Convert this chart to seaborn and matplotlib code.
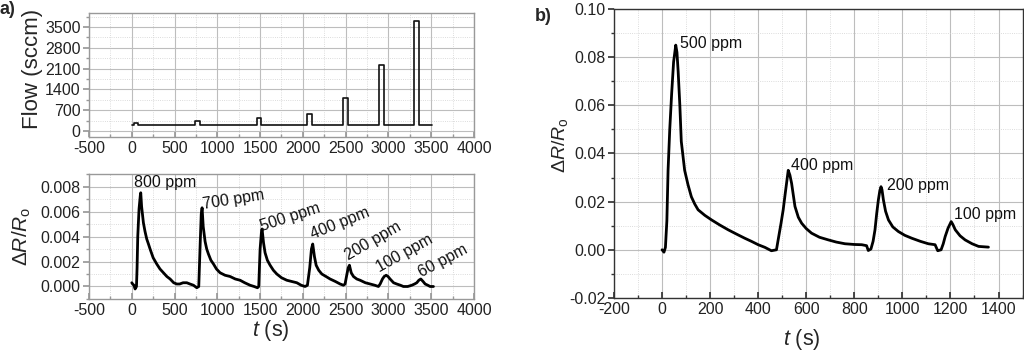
import numpy as np
import pandas as pd
import matplotlib
matplotlib.use("Agg")
import matplotlib.pyplot as plt
from matplotlib.ticker import MultipleLocator, FormatStrFormatter
import seaborn as sns

# --- Data ---
# a) gas flow pulses: baseline flow plus one rectangular pulse per concentration
BASE_FLOW = 200
pulse_start = [27, 740, 1460, 2053, 2470, 2890, 3304]
pulse_end = [78, 800, 1515, 2112, 2524, 2945, 3358]
pulse_flow = [280, 330, 450, 560, 1110, 2210, 3710]
flow_t_end = 3514

# a) response to the pulses
resp_a_t = [0, 10, 25, 39, 55, 62, 70, 85, 100, 105, 115, 136, 155, 175, 195, 214, 250, 292,
            330, 370, 410, 448, 490, 526, 560, 600, 643, 680, 721, 760, 783,
            800, 812, 822, 835, 857, 876, 896, 925, 955, 990, 1032, 1090, 1149, 1210,
            1266, 1320, 1383, 1430, 1469, 1484,
            1500, 1515, 1523, 1540, 1558, 1585, 1617, 1655, 1695, 1750, 1812, 1870, 1929,
            1980, 2026, 2053, 2080, 2100, 2115, 2135, 2155, 2185, 2221, 2270, 2318,
            2380, 2435, 2474, 2493, 2515, 2530, 2544, 2565, 2591, 2630, 2669, 2730,
            2786, 2840, 2883, 2903, 2930, 2950, 2973, 2995, 3019, 3060, 3097, 3140,
            3175, 3225, 3273, 3305, 3331, 3355, 3378, 3405, 3429, 3460, 3487, 3526]
resp_a_v = [0.0003, 0.0002, 0.0001, -0.0002, 0.0000, 0.0015, 0.0040, 0.0062, 0.0073, 0.0075,
            0.0064, 0.0051, 0.0044, 0.0038, 0.0034, 0.0030, 0.0023, 0.0018,
            0.0014, 0.0011, 0.0008, 0.0006, 0.0003, 0.0002, 0.0002, 0.0003, 0.0003, 0.0002,
            0.0001, -0.0001, 0.0000,
            0.0035, 0.0058, 0.0063, 0.0048, 0.0036, 0.0030, 0.0026, 0.0021, 0.0018, 0.0014,
            0.0011, 0.0009, 0.0008, 0.0006,
            0.0005, 0.0003, 0.0001, 0.0000, -0.0001, 0.0000,
            0.0030, 0.0043, 0.0046, 0.0035, 0.0027, 0.0021, 0.0017, 0.0013, 0.0010, 0.0007,
            0.0005, 0.0004, 0.0003,
            0.0001, 0.0000, 0.0001, 0.0015, 0.0030, 0.0034, 0.0024, 0.0017, 0.0013, 0.0010,
            0.0008, 0.0006,
            0.0004, 0.0002, 0.0001, 0.0002, 0.0010, 0.0015, 0.0017, 0.0011, 0.0008, 0.0006,
            0.0005, 0.0003,
            0.0002, 0.0001, 0.0000, 0.0002, 0.0006, 0.0008, 0.0009, 0.0008, 0.0006, 0.0003,
            0.0002, 0.0001,
            0.0000, 0.0000, 0.0001, 0.0002, 0.0003, 0.0005, 0.0006, 0.0004, 0.0002, 0.0001,
            0.0000, 0.0000]
labels_a = ["800 ppm", "700 ppm", "500 ppm", "400 ppm", "200 ppm", "100 ppm", "60 ppm"]
label_a_t = [27, 845, 1539, 2131, 2552, 2915, 3409]
label_a_v = [0.0077, 0.0060, 0.0042, 0.0036, 0.00187, 0.00092, 0.00055]
label_a_rot = [0, 9, 18, 22, 30, 29, 28]

# b) response
resp_b_t = [0, 8, 14, 20, 25, 32, 40, 48, 57, 62, 67, 74, 80, 94, 108, 122, 136, 150, 178,
            206, 240, 275, 310, 344, 372, 400, 428, 455, 476,
            483, 495, 504, 512, 518, 525, 532, 539, 553, 567, 581, 600, 622, 655, 692,
            725, 761, 800, 831, 851, 858, 869,
            878, 886, 893, 900, 906, 911, 915, 921, 930, 942, 960, 983, 1010, 1039,
            1075, 1108, 1136, 1147, 1161,
            1170, 1178, 1190, 1203, 1210, 1220, 1240, 1261, 1290, 1317, 1358]
resp_b_v = [0.000, -0.001, 0.001, 0.012, 0.033, 0.050, 0.065, 0.078, 0.085, 0.082, 0.074,
            0.060, 0.045, 0.033, 0.027, 0.022, 0.019, 0.0166, 0.0143,
            0.0124, 0.0103, 0.0083, 0.0065, 0.0048, 0.0035, 0.0021, 0.0010, -0.0004, 0.000,
            0.0041, 0.0110, 0.0166, 0.0230, 0.0276, 0.033, 0.031, 0.0276, 0.018, 0.0135,
            0.011, 0.0088, 0.0069, 0.0052, 0.0041,
            0.0032, 0.0025, 0.0022, 0.0021, 0.0017, -0.0003, 0.0003,
            0.0035, 0.0083, 0.0150, 0.0207, 0.0245, 0.0262, 0.0250, 0.0207, 0.0160, 0.0124,
            0.0095, 0.0076, 0.0060, 0.0048,
            0.0035, 0.0025, 0.0021, -0.0004, 0.000,
            0.0025, 0.0055, 0.0090, 0.0117, 0.0105, 0.0083, 0.0058, 0.0041, 0.0025, 0.0014,
            0.0011]
labels_b = ["500 ppm", "400 ppm", "200 ppm", "100 ppm"]
label_b_t = [73, 536, 935, 1213]
label_b_v = [0.0856, 0.0352, 0.0265, 0.0148]

# build the step-shaped flow trace from the pulse table
flow_t = [0]
flow_v = [BASE_FLOW]
for s, e, f in zip(pulse_start, pulse_end, pulse_flow):
    flow_t += [s, s, e, e]
    flow_v += [BASE_FLOW, f, f, BASE_FLOW]
flow_t.append(flow_t_end)
flow_v.append(BASE_FLOW)
flow_df = pd.DataFrame({"t": flow_t, "flow": flow_v})
resp_a = pd.DataFrame({"t": resp_a_t, "dr": resp_a_v})
resp_b = pd.DataFrame({"t": resp_b_t, "dr": resp_b_v})

# --- Style ---
sns.set_theme(style="ticks")
plt.rcParams["font.family"] = ["Liberation Sans", "DejaVu Sans"]
plt.rcParams["mathtext.fontset"] = "custom"
plt.rcParams["mathtext.rm"] = "Liberation Sans"
plt.rcParams["mathtext.it"] = "Liberation Sans:italic"
plt.rcParams["mathtext.bf"] = "Liberation Sans:bold"
plt.rcParams["axes.unicode_minus"] = False

TICK_FS = 11.5
LABEL_FS = 16


def style_axes(ax, spine_color, x_major, x_minor, y_major, y_minor):
    ax.xaxis.set_major_locator(MultipleLocator(x_major))
    ax.xaxis.set_minor_locator(MultipleLocator(x_minor))
    ax.yaxis.set_major_locator(MultipleLocator(y_major))
    ax.yaxis.set_minor_locator(MultipleLocator(y_minor))
    ax.grid(which="major", color="#bdbdbd", lw=0.8, ls="-")
    ax.grid(which="minor", color="#d0d0d0", lw=0.6, ls=":")
    ax.set_axisbelow(True)
    for sp in ax.spines.values():
        sp.set_visible(True)
        sp.set_color(spine_color)
        sp.set_linewidth(1.0)
    ax.tick_params(axis="x", which="both", direction="in", colors=spine_color,
                   labelcolor="#222222", labelsize=TICK_FS, pad=3)
    ax.tick_params(axis="y", which="both", direction="out", colors=spine_color,
                   labelcolor="#222222", labelsize=TICK_FS, pad=2)
    ax.tick_params(which="major", length=4)
    ax.tick_params(which="minor", length=2)


fig = plt.figure(figsize=(10.24, 3.53), dpi=100)
ax_flow = fig.add_axes([0.0869, 0.612, 0.376, 0.351])
ax_ra = fig.add_axes([0.0869, 0.153, 0.376, 0.354])
ax_rb = fig.add_axes([0.5996, 0.156, 0.399, 0.8185])

# a) flow
sns.lineplot(data=flow_df, x="t", y="flow", ax=ax_flow, estimator=None, sort=False,
             color="#111111", lw=1.2)
ax_flow.set_xlim(-500, 4000)
ax_flow.set_ylim(-200, 3970)
style_axes(ax_flow, "#999999", 500, 250, 700, 350)
ax_flow.set_xlabel("")
ax_flow.set_ylabel("Flow (sccm)", fontsize=LABEL_FS)
ax_flow.yaxis.set_label_coords(-0.12, 0.55)

# a) response
sns.lineplot(data=resp_a, x="t", y="dr", ax=ax_ra, estimator=None, sort=False,
             color="#000000", lw=2.0)
ax_ra.set_xlim(-500, 4000)
ax_ra.set_ylim(-0.001, 0.009)
style_axes(ax_ra, "#999999", 500, 250, 0.002, 0.001)
ax_ra.yaxis.set_major_formatter(FormatStrFormatter("%.3f"))
ax_ra.set_xlabel(r"$t$ (s)", fontsize=15.5)
ax_ra.xaxis.set_label_coords(0.473, -0.15)
ax_ra.set_ylabel(r"$\Delta R/R_{\mathrm{o}}$", fontsize=15)
ax_ra.yaxis.set_label_coords(-0.145, 0.5)
for txt, tx, ty, rot in zip(labels_a, label_a_t, label_a_v, label_a_rot):
    ax_ra.text(tx, ty, txt, fontsize=11.5, rotation=rot, rotation_mode="anchor",
               ha="left", va="bottom", color="#111111")

# b) response
sns.lineplot(data=resp_b, x="t", y="dr", ax=ax_rb, estimator=None, sort=False,
             color="#000000", lw=2.0)
ax_rb.set_xlim(-200, 1500)
ax_rb.set_ylim(-0.02, 0.10)
style_axes(ax_rb, "#333333", 200, 100, 0.02, 0.01)
ax_rb.yaxis.set_major_formatter(FormatStrFormatter("%.2f"))
ax_rb.set_xlabel(r"$t$ (s)", fontsize=15.5)
ax_rb.xaxis.set_label_coords(0.459, -0.1)
ax_rb.set_ylabel(r"$\Delta R/R_{\mathrm{o}}$", fontsize=14)
ax_rb.yaxis.set_label_coords(-0.107, 0.53)
for txt, tx, ty in zip(labels_b, label_b_t, label_b_v):
    ax_rb.text(tx, ty, txt, fontsize=11.5, ha="left", va="center", color="#111111")

fig.text(0.0, 0.998, "a)", fontsize=13, fontweight="bold", va="top", ha="left")
fig.text(0.522, 0.977, "b)", fontsize=13, fontweight="bold", va="top", ha="left")

fig.savefig("out.png", dpi=100)
